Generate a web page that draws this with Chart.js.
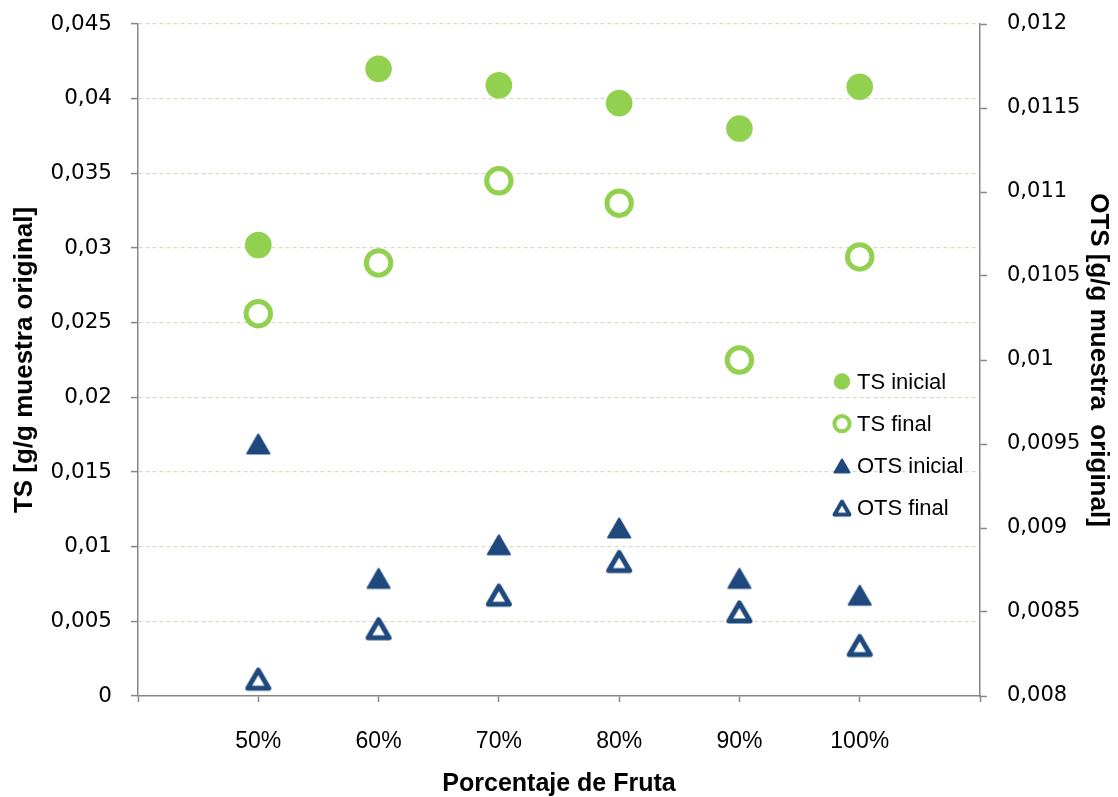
<!DOCTYPE html>
<html><head><meta charset="utf-8">
<script src="https://cdn.jsdelivr.net/npm/chart.js@4.4.1/dist/chart.umd.min.js"></script>
<style>html,body{margin:0;padding:0;background:#fff;} #wrap{width:1118px;height:797px;position:relative;}</style>
</head><body><div id="wrap"><canvas id="c"></canvas></div>
<script>
// ---- data ----
const categories = ['50%', '60%', '70%', '80%', '90%', '100%'];
const tsInicial  = [0.0302, 0.0420, 0.0409, 0.0397, 0.0380, 0.0408];
const tsFinal    = [0.0256, 0.0290, 0.0345, 0.0330, 0.0225, 0.0294];
const otsInicial = [0.0095, 0.0087, 0.0089, 0.0090, 0.0087, 0.0086];
const otsFinal   = [0.0081, 0.0084, 0.0086, 0.0088, 0.0085, 0.0083];
const seriesNames = ['TS inicial', 'TS final', 'OTS inicial', 'OTS final'];
const leftMin = 0, leftMax = 0.045, leftStep = 0.005;
const rightMin = 0.008, rightMax = 0.012, rightStep = 0.0005;
const xTitle = 'Porcentaje de Fruta';
const yTitle = 'TS [g/g muestra original]';
const y2Title = 'OTS [g/g muestra  original]';

// ---- styling ----
const GREEN = '#92D050', NAVY = '#1F497D', AXIS = '#868686', GRID = '#DDD9C4';

function triCanvas(size, side, lw, filled, color) {
  const c = document.createElement('canvas'); c.width = size; c.height = size;
  const g = c.getContext('2d');
  const h = side * Math.sqrt(3) / 2, cx = size / 2, cy = size / 2;
  g.beginPath(); g.moveTo(cx, cy - h / 2); g.lineTo(cx + side / 2, cy + h / 2); g.lineTo(cx - side / 2, cy + h / 2); g.closePath();
  g.lineJoin = 'round'; g.lineWidth = lw; g.strokeStyle = color;
  g.fillStyle = filled ? color : '#ffffff'; g.fill(); g.stroke();
  return c;
}
const triFilled = triCanvas(34, 22, 2, true, NAVY);
const triHollow = triCanvas(34, 21, 5, false, NAVY);
const triFilledLeg = triCanvas(26, 15, 2, true, NAVY);
const triHollowLeg = triCanvas(26, 15, 4, false, NAVY);

const toPts = arr => arr.map((v, i) => ({ x: i + 1, y: v }));
const fmt = v => { const s = Number(v.toFixed(6)).toString(); return s.replace('.', ','); };

const legendPlugin = {
  id: 'insideLegend',
  afterDraw(chart) {
    const { ctx, chartArea } = chart;
    const x0 = chartArea.right - 138, y0 = chartArea.top + 357.5, gap = 42.2;
    ctx.save();
    ctx.font = '22px "Liberation Sans", Arial, sans-serif';
    ctx.fillStyle = '#000'; ctx.textBaseline = 'middle'; ctx.textAlign = 'left';
    chart.data.datasets.forEach((ds, i) => {
      const y = y0 + i * gap;
      const m = ds.legendMarker;
      if (m === 'dot') { ctx.beginPath(); ctx.arc(x0, y, 8.2, 0, Math.PI * 2); ctx.fillStyle = GREEN; ctx.fill(); }
      else if (m === 'ring') { ctx.beginPath(); ctx.arc(x0, y, 7.6, 0, Math.PI * 2); ctx.lineWidth = 4; ctx.strokeStyle = GREEN; ctx.fillStyle = '#fff'; ctx.fill(); ctx.stroke(); }
      else if (m === 'tri') { ctx.drawImage(triFilledLeg, x0 - 13, y - 13); }
      else { ctx.drawImage(triHollowLeg, x0 - 13, y - 13); }
      ctx.fillStyle = '#000';
      ctx.fillText(ds.label, x0 + 15, y + 1);
    });
    ctx.restore();
  }
};

const fitY = s => { s.width = 138; s.paddingTop = 0; s.paddingBottom = 0; };

new Chart(document.getElementById('c'), {
  type: 'scatter',
  data: {
    datasets: [
      { label: seriesNames[0], data: toPts(tsInicial), yAxisID: 'y', pointStyle: 'circle', pointRadius: 13.3, pointBorderWidth: 0, backgroundColor: GREEN, borderColor: GREEN, legendMarker: 'dot' },
      { label: seriesNames[1], data: toPts(tsFinal), yAxisID: 'y', pointStyle: 'circle', pointRadius: 12.2, pointBorderWidth: 5, backgroundColor: '#ffffff', borderColor: GREEN, legendMarker: 'ring' },
      { label: seriesNames[2], data: toPts(otsInicial), yAxisID: 'y2', pointStyle: triFilled, pointRadius: 12, backgroundColor: NAVY, borderColor: NAVY, legendMarker: 'tri' },
      { label: seriesNames[3], data: toPts(otsFinal), yAxisID: 'y2', pointStyle: triHollow, pointRadius: 12, backgroundColor: NAVY, borderColor: NAVY, legendMarker: 'trih' }
    ]
  },
  options: {
    responsive: true, maintainAspectRatio: false, animation: false,
    layout: { padding: { top: 24, bottom: 0, left: 0, right: 0 } },
    plugins: { legend: { display: false }, tooltip: { enabled: false } },
    scales: {
      x: {
        type: 'linear', position: 'bottom', min: 0, max: categories.length + 1,
        ticks: { stepSize: 1, autoSkip: false, maxRotation: 0, padding: 26, color: '#000',
          font: { family: '"Liberation Sans", Arial, sans-serif', size: 23 },
          callback: v => categories[v - 1] !== undefined ? categories[v - 1] : '' },
        grid: { drawOnChartArea: false, drawTicks: true, tickLength: 6, tickColor: AXIS, tickWidth: 1.5, tickBorderDash: [] },
        border: { color: AXIS, width: 1.5 },
        title: { display: true, text: xTitle, color: '#000', padding: { top: 0, bottom: 0 },
          font: { family: '"Liberation Sans", Arial, sans-serif', size: 25, weight: 'bold', lineHeight: 1 } },
        afterFit: s => { s.height = 101; s.paddingLeft = 0; s.paddingRight = 0; }
      },
      y: {
        position: 'left', min: leftMin, max: leftMax,
        ticks: { stepSize: leftStep, padding: 19, color: '#000', callback: fmt,
          font: { family: '"DejaVu Sans", Verdana, sans-serif', size: 21.5 } },
        grid: { color: c => (c.tick && c.tick.value === 0) ? 'rgba(0,0,0,0)' : GRID, lineWidth: 1.2,
          tickLength: 7, tickColor: AXIS, tickWidth: 1.5, tickBorderDash: [] },
        border: { color: AXIS, width: 1.5, dash: [4, 3] },
        title: { display: true, text: yTitle, color: '#000', padding: { top: 9, bottom: 0 },
          font: { family: '"Liberation Sans", Arial, sans-serif', size: 26, weight: 'bold' } },
        afterFit: fitY
      },
      y2: {
        position: 'right', min: rightMin, max: rightMax,
        ticks: { stepSize: rightStep, padding: 20, color: '#000', callback: fmt,
          font: { family: '"DejaVu Sans", Verdana, sans-serif', size: 21 } },
        grid: { drawOnChartArea: false, tickLength: 7, tickColor: AXIS, tickWidth: 1.5, tickBorderDash: [] },
        border: { color: AXIS, width: 1.5 },
        title: { display: true, text: y2Title, color: '#000', padding: { top: 4, bottom: 0 },
          font: { family: '"Liberation Sans", Arial, sans-serif', size: 26, weight: 'bold' } },
        afterFit: fitY
      }
    }
  },
  plugins: [legendPlugin]
});
</script>
</body></html>
